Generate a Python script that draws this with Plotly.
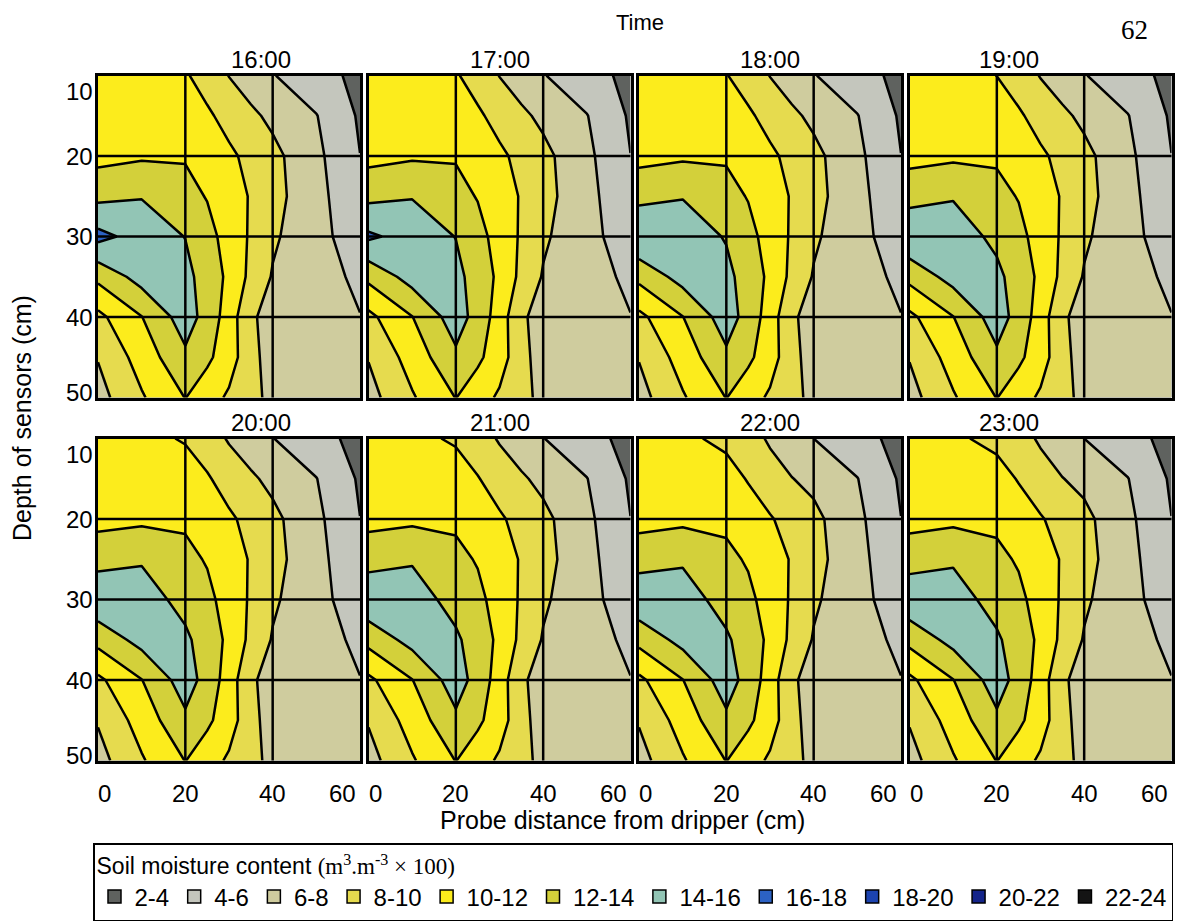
import plotly.graph_objects as go

# ---------------- data ----------------
times = ["16:00", "17:00", "18:00", "19:00", "20:00", "21:00", "22:00", "23:00"]
distance_cm = [0, 10, 20, 25, 30, 35, 40, 50, 60]
depth_cm = [10, 15, 20, 25, 30, 35, 40, 45, 50]
x_ticks = [0, 20, 40, 60]
y_ticks = [10, 20, 30, 40, 50]

band_levels = [2, 4, 6, 8, 10, 12, 14, 16, 18, 20, 22, 24]
band_labels = ["2-4", "4-6", "6-8", "8-10", "10-12", "12-14",
               "14-16", "16-18", "18-20", "20-22", "22-24"]
band_colors = ["#5f625f", "#c4c6bd", "#cfcc9e", "#e6db4e", "#fcec1c", "#d3d03a",
               "#92c5b5", "#2c62c4", "#1c43b0", "#14248a", "#141414"]

# soil moisture (m3.m-3 x 100); rows = depth_cm, columns = distance_cm
moisture_1600 = [
    [11.0, 10.9, 10.2, 9.2, 7.95, 7.0, 6.1, 4.75, 3.5],
    [11.3, 11.3, 11.0, 10.3, 9.35, 8.4, 7.55, 6.07, 3.75],
    [11.4, 11.75, 11.85, 11.1, 10.35, 9.5, 8.55, 6.45, 4.02],
    [13.5, 13.9, 12.6, 11.9, 10.9, 9.85, 8.65, 6.65, 4.35],
    [16.6, 15.2, 13.95, 12.65, 11.25, 9.75, 8.3, 6.6, 5.0],
    [12.5, 14.8, 14.6, 13.1, 11.6, 9.5, 7.85, 6.8, 5.6],
    [9.5, 11.95, 15.0, 13.2, 11.1, 8.2, 7.5, 6.9, 6.05],
    [8.1, 10.85, 13.6, 12.4, 10.9, 8.7, 7.0, 6.8, 6.5],
    [7.3, 9.8, 12.05, 10.85, 9.7, 8.55, 7.5, 6.9, 6.6],
]
moisture_1700 = [
    [11.0, 10.9, 10.18, 9.2, 7.95, 7.0, 6.1, 4.75, 3.5],
    [11.3, 11.3, 11.0, 10.3, 9.35, 8.4, 7.55, 6.07, 3.75],
    [11.4, 11.75, 11.85, 11.1, 10.35, 9.5, 8.55, 6.45, 4.02],
    [13.5, 13.9, 12.6, 11.9, 10.9, 9.85, 8.65, 6.65, 4.35],
    [16.35, 15.2, 13.95, 12.65, 11.25, 9.75, 8.3, 6.6, 5.0],
    [12.5, 14.8, 14.6, 13.1, 11.6, 9.5, 7.85, 6.8, 5.6],
    [9.5, 11.95, 15.0, 13.2, 11.1, 8.2, 7.5, 6.9, 6.05],
    [8.1, 10.85, 13.6, 12.4, 10.9, 8.7, 7.0, 6.8, 6.5],
    [7.3, 9.8, 12.05, 10.85, 9.7, 8.55, 7.5, 6.9, 6.6],
]
moisture_1800 = [
    [11.0, 10.85, 10.08, 9.15, 7.95, 7.0, 6.1, 4.75, 3.5],
    [11.3, 11.3, 11.0, 10.3, 9.35, 8.4, 7.55, 6.07, 3.75],
    [11.4, 11.7, 11.8, 11.1, 10.35, 9.5, 8.55, 6.45, 4.02],
    [13.45, 13.9, 12.6, 11.9, 10.9, 9.85, 8.65, 6.65, 4.35],
    [15.85, 15.15, 13.85, 12.6, 11.25, 9.75, 8.3, 6.6, 5.0],
    [12.55, 14.75, 14.55, 13.1, 11.6, 9.5, 7.85, 6.8, 5.6],
    [9.5, 11.95, 15.0, 13.2, 11.1, 8.2, 7.5, 6.9, 6.05],
    [8.1, 10.85, 13.6, 12.4, 10.9, 8.7, 7.0, 6.8, 6.5],
    [7.3, 9.8, 12.05, 10.85, 9.7, 8.55, 7.5, 6.9, 6.6],
]
moisture_1900 = [
    [11.0, 10.8, 9.98, 9.1, 7.9, 7.0, 6.1, 4.75, 3.5],
    [11.3, 11.25, 10.95, 10.25, 9.3, 8.4, 7.55, 6.07, 3.75],
    [11.4, 11.65, 11.75, 11.05, 10.3, 9.5, 8.55, 6.45, 4.02],
    [13.3, 13.85, 12.55, 11.9, 10.9, 9.85, 8.65, 6.65, 4.35],
    [15.7, 15.1, 13.5, 12.55, 11.2, 9.75, 8.3, 6.6, 5.0],
    [12.6, 14.75, 14.5, 13.05, 11.6, 9.5, 7.85, 6.8, 5.6],
    [9.55, 11.95, 15.0, 13.2, 11.1, 8.2, 7.5, 6.9, 6.05],
    [8.1, 10.85, 13.6, 12.4, 10.9, 8.7, 7.0, 6.8, 6.5],
    [7.3, 9.8, 12.05, 10.85, 9.7, 8.55, 7.5, 6.9, 6.6],
]
moisture_2000 = [
    [11.0, 10.5, 9.85, 9.0, 7.8, 6.95, 6.05, 4.7, 3.4],
    [11.3, 11.2, 10.85, 10.2, 9.2, 8.3, 7.5, 6.05, 3.75],
    [11.4, 11.6, 11.7, 11.0, 10.3, 9.45, 8.5, 6.45, 4.02],
    [13.3, 13.8, 12.5, 11.85, 10.85, 9.85, 8.65, 6.65, 4.35],
    [15.6, 15.0, 13.3, 12.5, 11.2, 9.75, 8.3, 6.6, 5.0],
    [12.65, 14.7, 14.4, 13.0, 11.6, 9.5, 7.85, 6.8, 5.6],
    [9.6, 11.95, 15.0, 13.2, 11.1, 8.2, 7.5, 6.9, 6.05],
    [8.15, 10.85, 13.6, 12.4, 10.9, 8.7, 7.0, 6.8, 6.5],
    [7.3, 9.8, 12.05, 10.85, 9.7, 8.55, 7.5, 6.9, 6.6],
]
moisture_2100 = [
    [11.0, 10.4, 9.8, 8.95, 7.8, 6.95, 6.05, 4.7, 3.4],
    [11.3, 11.2, 10.75, 10.1, 9.15, 8.25, 7.5, 6.05, 3.75],
    [11.4, 11.6, 11.65, 10.9, 10.25, 9.4, 8.5, 6.45, 4.02],
    [13.25, 13.8, 12.5, 11.85, 10.85, 9.85, 8.65, 6.65, 4.35],
    [15.55, 15.0, 13.25, 12.5, 11.2, 9.75, 8.3, 6.6, 5.0],
    [12.65, 14.7, 14.35, 13.0, 11.6, 9.5, 7.85, 6.8, 5.6],
    [9.6, 11.95, 15.0, 13.2, 11.1, 8.2, 7.5, 6.9, 6.05],
    [8.15, 10.85, 13.6, 12.4, 10.9, 8.7, 7.0, 6.8, 6.5],
    [7.3, 9.8, 12.05, 10.85, 9.7, 8.55, 7.5, 6.9, 6.6],
]
moisture_2200 = [
    [11.0, 10.3, 9.65, 8.9, 7.7, 6.9, 6.0, 4.7, 3.4],
    [11.3, 11.1, 10.6, 9.9, 8.95, 8.05, 7.5, 6.05, 3.75],
    [11.35, 11.55, 11.6, 10.75, 10.15, 9.35, 8.5, 6.45, 4.02],
    [13.2, 13.75, 12.45, 11.8, 10.85, 9.85, 8.65, 6.65, 4.35],
    [15.5, 14.95, 13.2, 12.45, 11.2, 9.75, 8.3, 6.6, 5.0],
    [12.6, 14.65, 14.3, 13.0, 11.6, 9.5, 7.85, 6.8, 5.6],
    [9.6, 11.95, 15.0, 13.2, 11.1, 8.2, 7.5, 6.9, 6.05],
    [8.15, 10.85, 13.6, 12.4, 10.9, 8.7, 7.0, 6.8, 6.5],
    [7.3, 9.8, 12.05, 10.85, 9.7, 8.55, 7.5, 6.9, 6.6],
]
moisture_2300 = [
    [11.0, 10.25, 9.6, 8.85, 7.7, 6.9, 6.0, 4.7, 3.4],
    [11.3, 11.1, 10.6, 9.9, 8.95, 8.05, 7.5, 6.05, 3.75],
    [11.35, 11.55, 11.6, 10.75, 10.15, 9.35, 8.5, 6.45, 4.02],
    [13.15, 13.75, 12.45, 11.8, 10.85, 9.85, 8.65, 6.65, 4.35],
    [15.45, 14.95, 13.2, 12.45, 11.2, 9.75, 8.3, 6.6, 5.0],
    [12.6, 14.65, 14.3, 13.0, 11.6, 9.5, 7.85, 6.8, 5.6],
    [9.6, 11.95, 15.0, 13.2, 11.1, 8.2, 7.5, 6.9, 6.05],
    [8.15, 10.85, 13.6, 12.4, 10.9, 8.7, 7.0, 6.8, 6.5],
    [7.3, 9.8, 12.05, 10.85, 9.7, 8.55, 7.5, 6.9, 6.6],
]
moisture = [moisture_1600, moisture_1700, moisture_1800, moisture_1900,
            moisture_2000, moisture_2100, moisture_2200, moisture_2300]

# ---------------- styling / geometry ----------------
W, H = 1180, 924
SANS = "Liberation Sans, Arial, Helvetica, sans-serif"
SERIF = "Liberation Serif, Times New Roman, serif"
PANEL_W, PANEL_H = 262, 322
COL_LEFT = [98, 368.5, 639, 909.5]
ROW_TOP = [75.5, 438.5]
LW = 2.5

# plotly maps filled-contour colours over [start - size/2, end + size/2]
lo, hi = band_levels[0] - 1, band_levels[-1] + 1


def pos(v):
    return min(max((v - lo) / (hi - lo), 0.0), 1.0)


colorscale = []
for k, col in enumerate(band_colors):
    a = 0.0 if k == 0 else pos(band_levels[k])
    b = 1.0 if k == len(band_colors) - 1 else pos(band_levels[k + 1])
    colorscale.append([a, col])
    colorscale.append([b, col])

fig = go.Figure()
layout = dict(
    width=W, height=H, margin=dict(l=0, r=0, t=0, b=0),
    paper_bgcolor="white", plot_bgcolor="white",
    font=dict(family=SANS, color="black"),
    showlegend=True,
)
shapes, annotations = [], []

for i, t in enumerate(times):
    r, c = divmod(i, 4)
    n = "" if i == 0 else str(i + 1)
    x0p = COL_LEFT[c] / W
    x1p = (COL_LEFT[c] + PANEL_W) / W
    y1p = 1 - ROW_TOP[r] / H
    y0p = 1 - (ROW_TOP[r] + PANEL_H) / H
    ax_common = dict(showgrid=False, zeroline=False, showticklabels=False, ticks="",
                     showline=True, mirror=True, linecolor="black", linewidth=LW,
                     layer="above traces", fixedrange=True)
    layout["xaxis" + n] = dict(domain=[x0p, x1p], range=[x_ticks[0], x_ticks[-1]],
                               anchor="y" + n, **ax_common)
    layout["yaxis" + n] = dict(domain=[y0p, y1p], range=[y_ticks[-1], y_ticks[0]],
                               anchor="x" + n, **ax_common)

    fig.add_trace(go.Contour(
        x=distance_cm, y=depth_cm, z=moisture[i],
        xaxis="x" + n, yaxis="y" + n,
        autocontour=False,
        contours=dict(start=band_levels[0], end=band_levels[-1], size=2,
                      coloring="fill", showlines=True),
        colorscale=colorscale, showscale=False,
        line=dict(color="black", width=LW, smoothing=0),
        hoverinfo="skip", showlegend=False,
    ))

    # grid lines on top of the filled contours
    for v in x_ticks[1:-1]:
        shapes.append(dict(type="line", xref="x" + n, yref="y" + n + " domain",
                           x0=v, x1=v, y0=0, y1=1, layer="above",
                           line=dict(color="black", width=LW)))
    for v in y_ticks[1:-1]:
        shapes.append(dict(type="line", xref="x" + n + " domain", yref="y" + n,
                           x0=0, x1=1, y0=v, y1=v, layer="above",
                           line=dict(color="black", width=LW)))

    # panel title
    annotations.append(dict(text=t, xref="paper", yref="paper",
                            x=(x0p + x1p) / 2, y=y1p, yanchor="bottom", yshift=1,
                            showarrow=False, font=dict(size=24, family=SANS)))

    # y tick labels (left column)
    if c == 0:
        for k, v in enumerate(y_ticks):
            if k == 0:
                ya, ys = "top", 0
            elif k == len(y_ticks) - 1:
                ya, ys = "middle", 5
            else:
                ya, ys = "middle", 0
            annotations.append(dict(text=str(v), xref="x" + n + " domain", yref="y" + n,
                                    x=0, y=v, xanchor="right", yanchor=ya, xshift=-3,
                                    yshift=ys, showarrow=False,
                                    font=dict(size=24, family=SANS)))
    # x tick labels (bottom row)
    if r == 1:
        for k, v in enumerate(x_ticks):
            if k == 0:
                xa, xs = "left", -2
            elif k == len(x_ticks) - 1:
                xa, xs = "right", -2
            else:
                xa, xs = "center", 0
            annotations.append(dict(text=str(v), xref="x" + n, yref="y" + n + " domain",
                                    x=v, y=0, xanchor=xa, yanchor="top", xshift=xs,
                                    yshift=-17, showarrow=False,
                                    font=dict(size=24, family=SANS)))

# overall titles
annotations += [
    dict(text="Time", xref="paper", yref="paper", x=640 / W, y=1 - 22 / H,
         yanchor="middle", showarrow=False, font=dict(size=22, family=SANS)),
    dict(text="62", xref="paper", yref="paper", x=1150 / W, y=1 - 30 / H,
         yanchor="middle", showarrow=False, font=dict(size=27, family=SERIF)),
    dict(text="Probe distance from dripper (cm)", xref="paper", yref="paper",
         x=623 / W, y=1 - 820 / H, yanchor="middle", showarrow=False,
         font=dict(size=25, family=SANS)),
    dict(text="Depth of sensors (cm)", xref="paper", yref="paper",
         x=22 / W, y=1 - 418 / H, xanchor="center", yanchor="middle",
         textangle=-90, showarrow=False, font=dict(size=25, family=SANS)),
]

# legend entries (one per moisture band)
for lab, col in zip(band_labels, band_colors):
    fig.add_trace(go.Scatter(
        x=[None], y=[None], mode="markers", name=lab,
        marker=dict(symbol="square", size=13, color=col,
                    line=dict(color="black", width=1.5)),
        hoverinfo="skip", showlegend=True, xaxis="x", yaxis="y",
    ))

layout["legend"] = dict(
    orientation="h", x=93 / W, y=1 - 921 / H, xanchor="left", yanchor="bottom",
    bgcolor="white", bordercolor="black", borderwidth=1.5,
    font=dict(family=SANS, size=24, color="black"),
    itemwidth=30, tracegroupgap=0,
    title=dict(text='Soil moisture content <span style="font-family:' + SERIF + '">'
                    '(m<sup>3</sup>.m<sup>-3</sup> × 100)</span>',
               side="top", font=dict(family=SANS, size=23, color="black")),
)
layout["shapes"] = shapes
layout["annotations"] = annotations
fig.update_layout(**layout)

fig.write_html("out.html")
